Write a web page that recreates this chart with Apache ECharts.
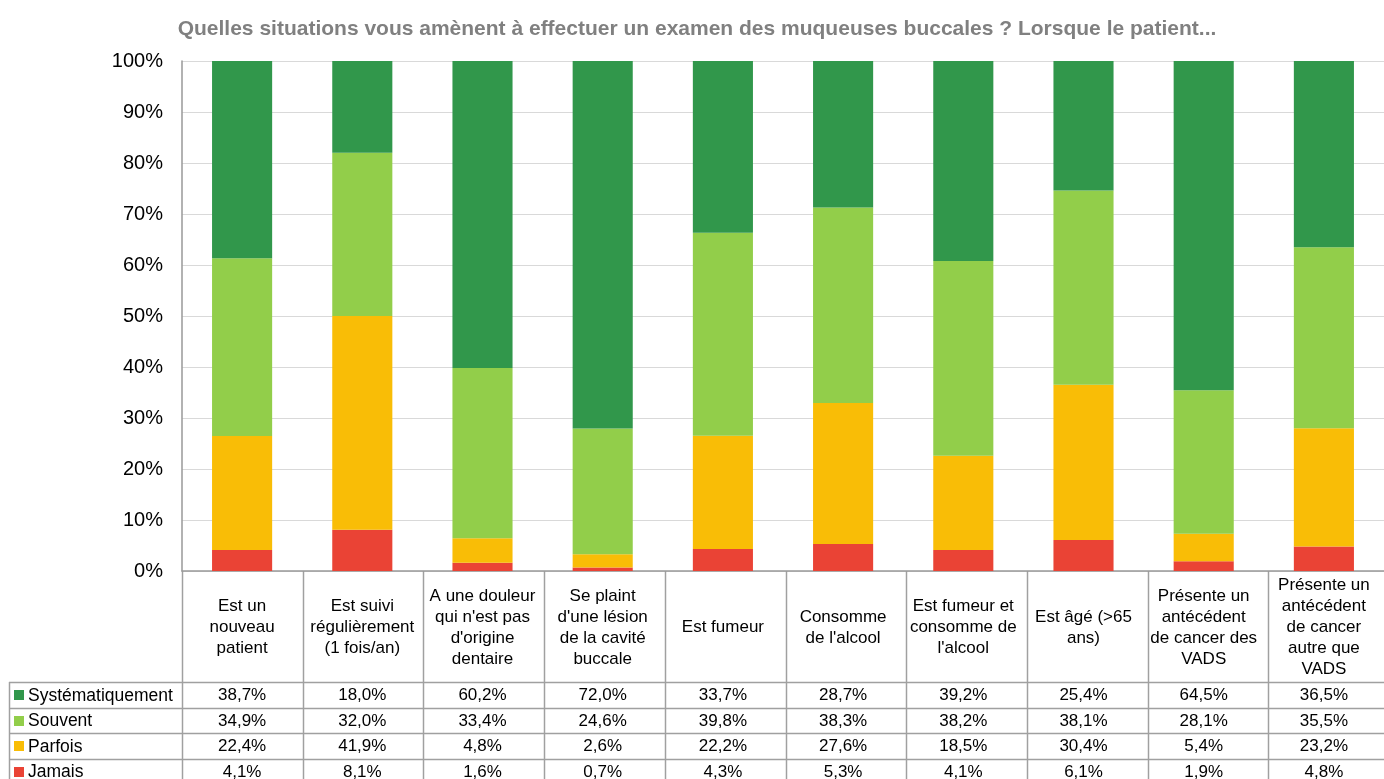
<!DOCTYPE html>
<html>
<head>
<meta charset="utf-8">
<script src="https://cdn.jsdelivr.net/npm/echarts@6/dist/echarts.min.js"></script>
<style>
html,body{margin:0;padding:0;background:#fff;}
#chart{width:1384px;height:779px;}
</style>
</head>
<body>
<div id="chart"></div>
<script>
var titleText = "Quelles situations vous amènent à effectuer un examen des muqueuses buccales ? Lorsque le patient...";
var categories = [
  "Est un\nnouveau\npatient",
  "Est suivi\nrégulièrement\n(1 fois/an)",
  "A une douleur\nqui n'est pas\nd'origine\ndentaire",
  "Se plaint\nd'une lésion\nde la cavité\nbuccale",
  "Est fumeur",
  "Consomme\nde l'alcool",
  "Est fumeur et\nconsomme de\nl'alcool",
  "Est âgé (>65\nans)",
  "Présente un\nantécédent\nde cancer des\nVADS",
  "Présente un\nantécédent\nde cancer\nautre que\nVADS"
];
var seriesNames = ["Systématiquement", "Souvent", "Parfois", "Jamais"];
var systematiquement = [38.7, 18.0, 60.2, 72.0, 33.7, 28.7, 39.2, 25.4, 64.5, 36.5];
var souvent          = [34.9, 32.0, 33.4, 24.6, 39.8, 38.3, 38.2, 38.1, 28.1, 35.5];
var parfois          = [22.4, 41.9, 4.8, 2.6, 22.2, 27.6, 18.5, 30.4, 5.4, 23.2];
var jamais           = [4.1, 8.1, 1.6, 0.7, 4.3, 5.3, 4.1, 6.1, 1.9, 4.8];
var yTicks = [0, 10, 20, 30, 40, 50, 60, 70, 80, 90, 100];

var colors = ["#31974B", "#92CE4A", "#F9BD06", "#EA4335"];
var seriesData = [systematiquement, souvent, parfois, jamais];

// 100% stacked: normalise each category to its total
var totals = categories.map(function (c, i) {
  return seriesData.reduce(function (s, arr) { return s + arr[i]; }, 0);
});
function share(arr) { return arr.map(function (v, i) { return v / totals[i] * 100; }); }

var FONT = "Liberation Sans, Arial, sans-serif";
var GRID_LEFT = 182, GRID_TOP = 61, GRID_W = 1207, GRID_H = 510;

var chart = echarts.init(document.getElementById('chart'));

// stacking order bottom-to-top: Jamais, Parfois, Souvent, Systématiquement
var order = [3, 2, 1, 0];
var series = order.map(function (k) {
  return {
    name: seriesNames[k],
    type: 'bar',
    stack: 'total',
    barWidth: '50%',
    data: share(seriesData[k]),
    itemStyle: { color: colors[k] },
    emphasis: { disabled: true }
  };
});

chart.setOption({
  animation: false,
  textStyle: { fontFamily: FONT },
  title: {
    text: titleText,
    left: 692, top: 14, textAlign: 'center',
    textStyle: { fontFamily: FONT, fontSize: 21, fontWeight: 'bold', color: '#808080' }
  },
  grid: { left: GRID_LEFT, top: GRID_TOP, width: GRID_W, height: GRID_H, containLabel: false },
  xAxis: {
    type: 'category',
    data: categories,
    axisLine: { show: true, lineStyle: { color: '#999999', width: 1.5 } },
    axisTick: { show: false },
    axisLabel: { show: false },
    splitLine: { show: false }
  },
  yAxis: {
    type: 'value',
    min: yTicks[0], max: yTicks[yTicks.length - 1], interval: yTicks[1] - yTicks[0],
    axisLine: { show: true, lineStyle: { color: '#999999', width: 1.5 } },
    axisTick: { show: false },
    splitLine: { lineStyle: { color: '#d9d9d9', width: 1 } },
    axisLabel: {
      margin: 19, fontSize: 20, color: '#000', fontFamily: FONT,
      formatter: function (v) { return v + '%'; }
    }
  },
  series: series
});

// Data table below the plot, built from the arrays
function fmt(v) { return v.toFixed(1).replace('.', ',') + '%'; }
var g = [];
var lineColor = '#a0a0a0';
var x0 = GRID_LEFT, axisY = GRID_TOP + GRID_H;
var headerBottom = 682, rowH = 25.5;
var legendLeft = 9;
var colW = GRID_W / categories.length;
var nRows = seriesNames.length;
var tableBottom = headerBottom + rowH * (nRows + 1);
var tFont = '17px ' + FONT;

// vertical lines between columns
for (var i = 0; i <= categories.length; i++) {
  var vx = Math.round(x0 + colW * i) + 0.5;
  g.push({ type: 'line', shape: { x1: vx, y1: axisY, x2: vx, y2: tableBottom }, style: { stroke: lineColor, lineWidth: 1.5 }, silent: true });
}
// left edge of legend column
g.push({ type: 'line', shape: { x1: legendLeft + 0.5, y1: headerBottom, x2: legendLeft + 0.5, y2: tableBottom }, style: { stroke: lineColor, lineWidth: 1.5 }, silent: true });
// horizontal row lines
for (var r = 0; r <= nRows; r++) {
  var hy = Math.round(headerBottom + rowH * r) + 0.5;
  g.push({ type: 'line', shape: { x1: legendLeft, y1: hy, x2: x0 + GRID_W, y2: hy }, style: { stroke: lineColor, lineWidth: 1.5 }, silent: true });
}
// header labels
categories.forEach(function (c, i) {
  var cx = chart.convertToPixel({ xAxisIndex: 0 }, i);
  g.push({
    type: 'text', x: cx, y: (axisY + headerBottom) / 2 + 1, silent: true,
    style: { text: c, fill: '#000', font: tFont, align: 'center', verticalAlign: 'middle', lineHeight: 21 }
  });
});
// rows
seriesNames.forEach(function (name, k) {
  var cy = headerBottom + rowH * k + rowH / 2 + 1;
  g.push({ type: 'rect', shape: { x: 14, y: Math.round(cy - 5.5), width: 10, height: 10 }, style: { fill: colors[k] }, silent: true });
  g.push({ type: 'text', x: 28, y: cy, silent: true, style: { text: name, fill: '#000', font: '17.5px ' + FONT, align: 'left', verticalAlign: 'middle' } });
  seriesData[k].forEach(function (v, i) {
    var cx = chart.convertToPixel({ xAxisIndex: 0 }, i);
    g.push({ type: 'text', x: cx, y: cy, silent: true, style: { text: fmt(v), fill: '#000', font: tFont, align: 'center', verticalAlign: 'middle' } });
  });
});
chart.setOption({ graphic: g });
</script>
</body>
</html>
